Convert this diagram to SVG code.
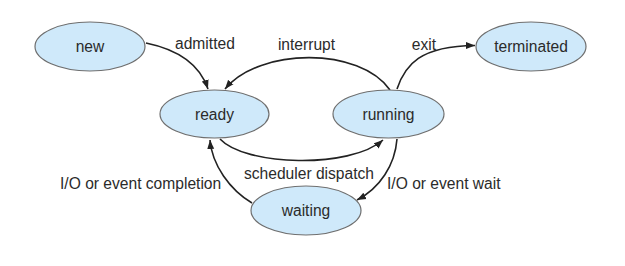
<svg xmlns="http://www.w3.org/2000/svg" width="625" height="266" viewBox="0 0 625 266">
<defs>
<style>
.node ellipse{fill:#cfe9fa;stroke:#6f6f6f;stroke-width:1.2}
text{font-family:"Liberation Sans",Arial,sans-serif;font-size:15.6px;fill:#2b2b2b}
.c{text-anchor:middle}
.edge{fill:none;stroke:#222;stroke-width:1.6;marker-end:url(#ah)}
</style>
<marker id="ah" markerUnits="userSpaceOnUse" markerWidth="10" markerHeight="8" refX="9" refY="4" orient="auto">
<path d="M0,0.5 L9,4 L0,7.5 Z" fill="#222"/>
</marker>
</defs>
<rect width="625" height="266" fill="#fff"/>
<g id="connectors">
<path class="edge" d="M146,43 C180,50 200,65 208,89"/>
<path class="edge" d="M390,90 C360,47 260,47 225,89"/>
<path class="edge" d="M397,89 C405,65 420,46 475,45.5"/>
<path class="edge" d="M220,139 C245,166 350,169 383,140"/>
<path class="edge" d="M397,139 C395,165 380,188 357,200"/>
<path class="edge" d="M252,203 C230,190 212,165 210,140"/>
</g>
<g id="labels">
<text x="175" y="49">admitted</text>
<text x="306.5" y="50" class="c">interrupt</text>
<text x="424" y="50" class="c">exit</text>
<text x="309" y="179" class="c">scheduler dispatch</text>
<text x="60" y="188.5">I/O or event completion</text>
<text x="387" y="188.5">I/O or event wait</text>
</g>
<g id="node-new" class="node"><ellipse cx="90" cy="46.5" rx="55" ry="24.5"/><text x="90" y="52" class="c">new</text></g>
<g id="node-ready" class="node"><ellipse cx="214.5" cy="114" rx="54.5" ry="24"/><text x="214.5" y="120" class="c">ready</text></g>
<g id="node-running" class="node"><ellipse cx="388.5" cy="114" rx="55.5" ry="24"/><text x="388.5" y="120" class="c">running</text></g>
<g id="node-terminated" class="node"><ellipse cx="531" cy="46.5" rx="55" ry="24.5"/><text x="531" y="52" class="c">terminated</text></g>
<g id="node-waiting" class="node"><ellipse cx="306" cy="210.5" rx="55" ry="24.5"/><text x="306" y="216" class="c">waiting</text></g>
</svg>
